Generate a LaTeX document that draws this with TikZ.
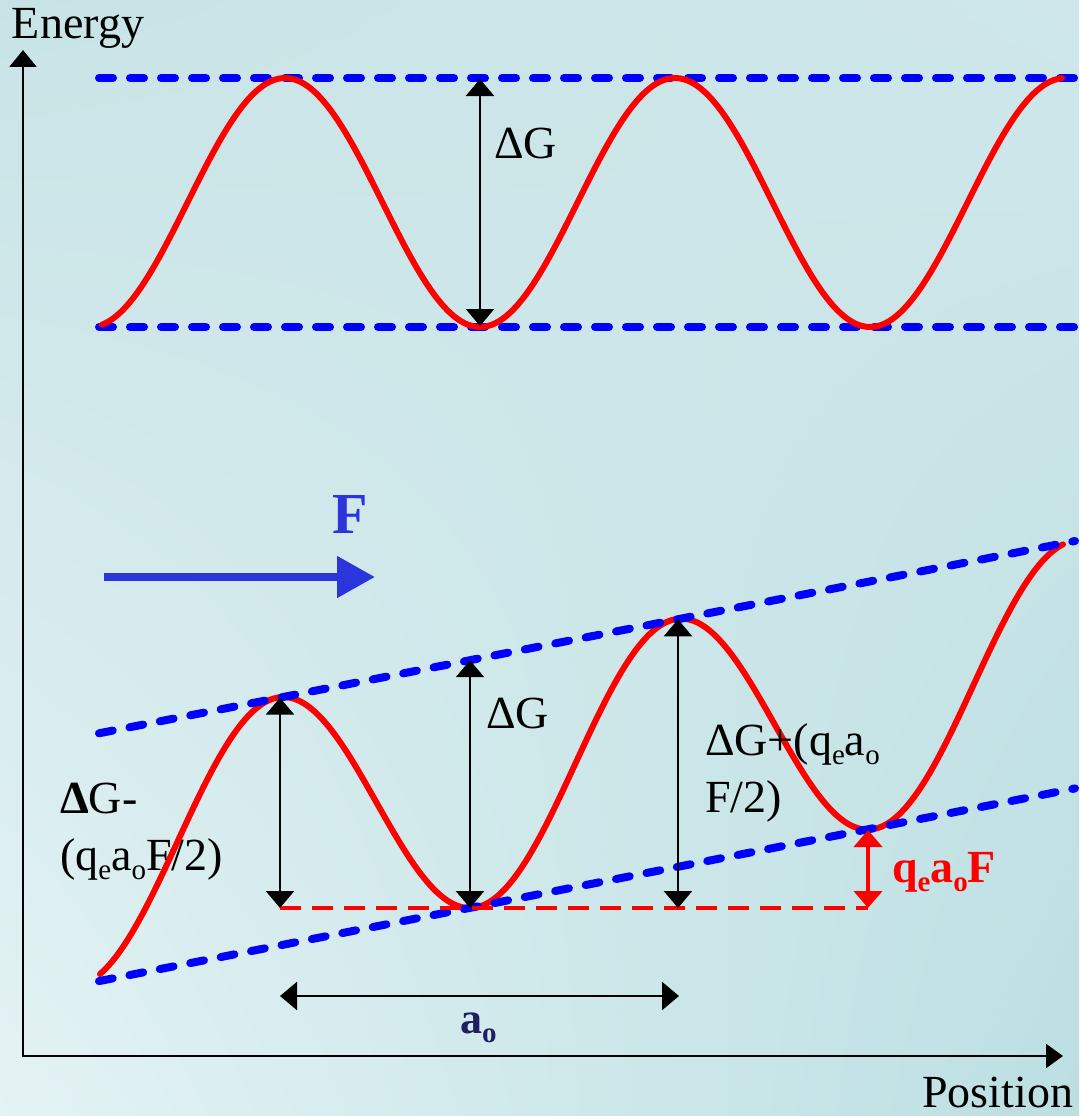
\documentclass[tikz,border=0pt]{standalone}
\usepackage{fontspec}
\setmainfont{Liberation Serif}
\usetikzlibrary{arrows.meta,shadings}
\definecolor{bgUL}{HTML}{C8E3E6}
\definecolor{bgUR}{HTML}{CFE7EA}
\definecolor{bgLL}{HTML}{E4F3F4}
\definecolor{bgLR}{HTML}{BCDFE2}
\definecolor{dashblue}{HTML}{0000FF}
\definecolor{fblue}{HTML}{2A35DC}
\definecolor{navy}{HTML}{1F2060}
\definecolor{curvered}{HTML}{FF0000}
\newcommand\subx[1]{\raisebox{-9pt}{\fontsize{29}{30}\selectfont #1}}
\tikzset{
  lbl/.style={inner sep=0pt, outer sep=0pt, font=\fontsize{46}{52}\selectfont},
  bluedash/.style={draw=dashblue, line width=8pt, line cap=round, dash pattern=on 14pt off 17pt},
  redcurve/.style={draw=curvered, line width=6pt, line cap=round},
  reddash/.style={draw=curvered, line width=4pt, dash pattern=on 21pt off 11pt},
  blk/.style={draw=black, line width=2.5pt, {Triangle[length=17pt,width=28pt]}-{Triangle[length=17pt,width=28pt]}},
  redarr/.style={draw=curvered, line width=4pt, {Triangle[length=17pt,width=28pt]}-{Triangle[length=17pt,width=28pt]}},
  axis/.style={draw=black, line width=2.5pt, {Triangle[length=17pt,width=27pt]}-{Triangle[length=17pt,width=24pt]}}
}
\begin{document}
\begin{tikzpicture}[x=1pt,y=-1pt]
\useasboundingbox (0,0) rectangle (1079,1116);
\shade[upper left=bgUL, upper right=bgUR, lower left=bgLL, lower right=bgLR] (0,0) rectangle (1079,1116);

% axes
\coordinate (O) at (23,1056);
\coordinate (Ytip) at (23,50);
\coordinate (Xtip) at (1063,1056);
\draw[axis] (Ytip) -- (O) -- (Xtip);
\node[lbl, anchor=base west] (energy) at (12,39) {Energy};
\node[lbl, anchor=base east] (position) at (1073,1107) {Position};

% ---------- top panel ----------
\coordinate (t1a) at (99,78);
\coordinate (t1b) at (1075,78);
\coordinate (t2a) at (99,327);
\coordinate (t2b) at (1075,327);
\draw[bluedash] (t1a) -- (t1b);
\draw[bluedash] (t2a) -- (t2b);
\draw[redcurve] plot[domain=102:1062, samples=240, smooth] (\x, {202.5+124.5*cos(0.923077*(\x-90))});
\coordinate (tArrTop) at (480,79);
\coordinate (tArrBot) at (480,326);
\draw[blk] (tArrBot) -- (tArrTop);
\node[lbl, anchor=base west] (dgTop) at (494,158) {ΔG};

% ---------- bottom panel ----------
\coordinate (u1) at (99,733.3);
\coordinate (u2) at (1075,541.0);
\coordinate (l1) at (99,981.1);
\coordinate (l2) at (1075,788.4);
\draw[redcurve] plot[domain=100:1063, samples=240, smooth] (\x, {876.7-0.197*\x+124.5*cos(0.904523*(\x-476))});
\draw[bluedash] (u1) -- (u2);
\draw[bluedash] (l1) -- (l2);

\coordinate (rA) at (280,908);
\coordinate (rB) at (868,908);
\draw[reddash] (rA) -- (rB);

\coordinate (a1t) at (280,697.6);
\coordinate (a1b) at (280,908);
\coordinate (a2t) at (470,660.2);
\coordinate (a2b) at (470,908);
\coordinate (a3t) at (678,619.3);
\coordinate (a3b) at (678,908);
\coordinate (a4t) at (868,830);
\coordinate (a4b) at (868,908);
\draw[blk] (a1b) -- (a1t);
\draw[blk] (a2b) -- (a2t);
\draw[blk] (a3b) -- (a3t);
\draw[redarr] (a4b) -- (a4t);

\coordinate (ao1) at (280,996);
\coordinate (ao2) at (679,996);
\draw[blk] (ao1) -- (ao2);
\node[lbl, anchor=base west, text=navy, font=\fontsize{44}{50}\selectfont\bfseries] (aolbl) at (460,1033) {a\subx{o}};

% force arrow
\coordinate (f1) at (104,577);
\coordinate (f2) at (375,577);
\draw[draw=fblue, line width=8pt, -{Triangle[length=38pt,width=40pt]}] (f1) -- (f2);
\node[lbl, anchor=base west, text=fblue, font=\fontsize{58}{64}\selectfont\bfseries] (Flbl) at (332,533) {F};

% labels
\node[lbl, anchor=base west] (dgMid) at (486,728) {ΔG};
\node[lbl, anchor=base west] (dgPlus1) at (705,755) {ΔG+(q\subx{e}a\subx{o}};
\node[lbl, anchor=base west] (dgPlus2) at (705,812) {F/2)};
\node[lbl, anchor=base west] (dgMinus1) at (60,813) {\textbf{Δ}G-};
\node[lbl, anchor=base west] (dgMinus2) at (60,870) {(q\subx{e}a\subx{o}F/2)};
\node[lbl, anchor=base west, text=curvered, font=\fontsize{46}{52}\selectfont\bfseries] (qaF) at (892,882) {q\subx{e}a\subx{o}F};
\end{tikzpicture}
\end{document}
